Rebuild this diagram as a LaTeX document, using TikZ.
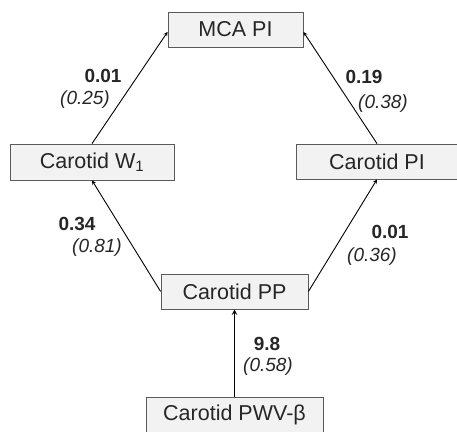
\documentclass[tikz,border=0pt]{standalone}
\usepackage{fontspec}
\setmainfont{Liberation Sans}
\usepackage{tikz}
\definecolor{boxfill}{HTML}{F2F2F2}
\definecolor{boxline}{HTML}{5A5A5A}
\definecolor{txt}{HTML}{262626}

\begin{document}
\begin{tikzpicture}[x=1pt,y=-1pt,
	box/.style={draw=boxline, fill=boxfill, line width=0.8pt, inner sep=0pt, text=txt, font=\fontsize{21.5}{24}\selectfont},
	coef/.style={text=txt, font=\fontsize{19}{22}\selectfont\bfseries, inner sep=0pt},
	pval/.style={text=txt, font=\fontsize{19}{22}\selectfont\itshape, inner sep=0pt},
	path/.style={-stealth, line width=0.9pt, black}]
	
	\useasboundingbox (0,0) rectangle (457,431);
	
	\node[box, minimum width=135pt, minimum height=35pt] (mca) at (235.5,29.5) {MCA PI};
	\node[box, minimum width=164pt, minimum height=36pt] (w1) at (92,162) {Carotid W\textsubscript{1}};
	\node[box, minimum width=161pt, minimum height=35pt] (cpi) at (377,161.5) {Carotid PI};
	\node[box, minimum width=147pt, minimum height=35pt] (pp) at (234.5,291.5) {Carotid PP};
	\node[box, minimum width=177pt, minimum height=36pt] (pwv) at (234.5,415) {Carotid PWV-β};
	
	\draw[path] (w1.north) -- (mca.182);
	\draw[path] (cpi.north) -- (mca.-2);
	\draw[path] (pp.west) -- (w1.south);
	\draw[path] (pp.east) -- (cpi.south);
	\draw[path, line width=1.4pt] (pwv.north) -- (pp.south);
	
	% coefficients
	\node[coef] (c1) at (103,76) {0.01};
	\node[pval] (p1) at (85,100) {(0.25)};
	\node[coef] (c2) at (364,77) {0.19};
	\node[pval] (p2) at (383,104) {(0.38)};
	\node[coef] (c3) at (77,224) {0.34};
	\node[pval] (p3) at (97,248) {(0.81)};
	\node[coef] (c4) at (390,232) {0.01};
	\node[pval] (p4) at (372,257) {(0.36)};
	\node[coef] (c5) at (267,344) {9.8};
	\node[pval] (p5) at (268,367) {(0.58)};
\end{tikzpicture}
\end{document}
